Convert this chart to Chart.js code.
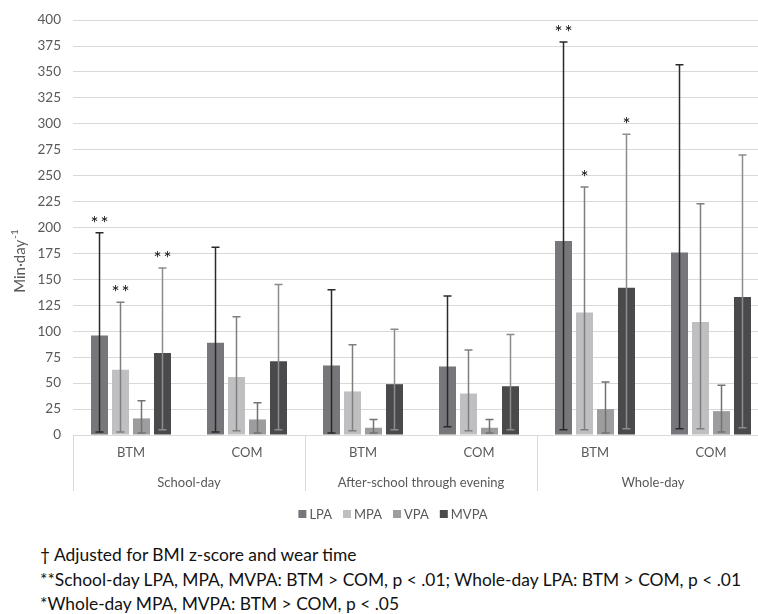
<!DOCTYPE html>
<html>
<head>
<meta charset="utf-8">
<script src="https://cdn.jsdelivr.net/npm/chart.js@4.4.1/dist/chart.umd.min.js"></script>
<style>
  body { margin: 0; background: #fff; overflow: hidden; width: 758px; height: 614px; position: relative; }
  #wrap { position: absolute; left: 0; top: 0; width: 790px; height: 535px; }
  .note { position: absolute; left: 40px; font-family: Lato, sans-serif; font-size: 17.4px; color: #111; white-space: nowrap; line-height: 20px; }
</style>
</head>
<body>
<div id="wrap"><canvas id="chart" width="790" height="535"></canvas></div>
<div class="note" style="top:545px">† Adjusted for BMI z-score and wear time</div>
<div class="note" style="top:570px">**School-day LPA, MPA, MVPA: BTM &gt; COM, p &lt; .01; Whole-day LPA: BTM &gt; COM, p &lt; .01</div>
<div class="note" style="top:594px">*Whole-day MPA, MVPA: BTM &gt; COM, p &lt; .05</div>
<script>
// categories (group / period)
const groups = ['BTM', 'COM', 'BTM', 'COM', 'BTM', 'COM'];
const periods = ['School-day', 'After-school through evening', 'Whole-day'];
const seriesNames = ['LPA', 'MPA', 'VPA', 'MVPA'];
const yTicks = [0, 400, 25];

// means
const lpa  = [96, 89, 67, 66, 187, 176];
const mpa  = [63, 56, 42, 40, 118, 109];
const vpa  = [16, 15, 7, 7, 25, 23];
const mvpa = [79, 71, 49, 47, 142, 133];

// error bar ends (low / high)
const lpaLow  = [3, 3, 2, 8, 5, 6];
const lpaHigh = [195, 181, 140, 134, 379, 357];
const mpaLow  = [3, 4, 4, 4, 5, 6];
const mpaHigh = [128, 114, 87, 82, 239, 223];
const vpaLow  = [2, 2, 2, 2, 2, 3];
const vpaHigh = [33, 31, 15, 15, 51, 48];
const mvpaLow  = [5, 5, 5, 5, 6, 7];
const mvpaHigh = [161, 145, 102, 97, 290, 270];

// significance marks per series
const lpaStars  = ['**', '', '', '', '**', ''];
const mpaStars  = ['**', '', '', '', '*', ''];
const vpaStars  = ['', '', '', '', '', ''];
const mvpaStars = ['**', '', '', '', '*', ''];

const colors = ['#77777b', '#bfbfc1', '#9d9d9f', '#4a4a4c'];
const errColors = ['#2a2a2a', '#7f7f7f', '#727272', '#8c8c8c'];
const lows = [lpaLow, mpaLow, vpaLow, mvpaLow];
const highs = [lpaHigh, mpaHigh, vpaHigh, mvpaHigh];
const stars = [lpaStars, mpaStars, vpaStars, mvpaStars];

const FONT = 'Lato, "Open Sans", sans-serif';
const GREY = '#595959';
const LINE = '#d9d9d9';

const extras = {
    id: 'extras',
    afterDatasetsDraw(chart) {
        const ctx = chart.ctx;
        const y = chart.scales.y;
        const x = chart.scales.x;
        ctx.save();

        // error bars + stars
        chart.data.datasets.forEach((ds, i) => {
            const meta = chart.getDatasetMeta(i);
            meta.data.forEach((bar, j) => {
                const top = y.getPixelForValue(highs[i][j]);
                const bot = y.getPixelForValue(lows[i][j]);
                ctx.strokeStyle = errColors[i];
                ctx.lineWidth = 1.5;
                ctx.beginPath();
                ctx.moveTo(bar.x, top); ctx.lineTo(bar.x, bot);
                ctx.moveTo(bar.x - 4, top); ctx.lineTo(bar.x + 4, top);
                ctx.moveTo(bar.x - 4, bot); ctx.lineTo(bar.x + 4, bot);
                ctx.stroke();
                if (stars[i][j]) {
                    ctx.fillStyle = '#111';
                    ctx.font = '19px ' + FONT;
                    ctx.textAlign = 'left';
                    ctx.textBaseline = 'alphabetic';
                    ctx.letterSpacing = '2px';
                    const w = ctx.measureText(stars[i][j]).width - 2;
                    ctx.fillText(stars[i][j], bar.x - w / 2, top - 3);
                    ctx.letterSpacing = '0px';
                }
            });
        });

        // category labels, period labels and separators
        const base = chart.chartArea.bottom;
        ctx.fillStyle = GREY;
        ctx.font = '13px ' + FONT;
        ctx.textAlign = 'center';
        ctx.textBaseline = 'middle';
        groups.forEach((g, i) => ctx.fillText(g, x.getPixelForValue(i), base + 18));
        const step = x.getPixelForValue(1) - x.getPixelForValue(0);
        periods.forEach((p, k) => {
            const cx = (x.getPixelForValue(2 * k) + x.getPixelForValue(2 * k + 1)) / 2;
            ctx.fillText(p, cx, base + 48);
        });
        ctx.strokeStyle = LINE;
        ctx.lineWidth = 1;
        for (let k = 0; k <= 3; k++) {
            const sx = Math.round(x.getPixelForValue(2 * k) - step / 2) + 0.5;
            ctx.beginPath();
            ctx.moveTo(sx, base); ctx.lineTo(sx, base + 56);
            ctx.stroke();
        }

        // y title
        ctx.save();
        ctx.translate(25, (chart.chartArea.top + base + 56) / 2 + 6);
        ctx.rotate(-Math.PI / 2);
        const main = 'Min·day';
        ctx.font = '15px ' + FONT;
        const w1 = ctx.measureText(main).width;
        ctx.font = '10px ' + FONT;
        const w2 = ctx.measureText('-1').width;
        const sx0 = -(w1 + w2) / 2;
        ctx.textAlign = 'left';
        ctx.textBaseline = 'alphabetic';
        ctx.font = '15px ' + FONT;
        ctx.fillText(main, sx0, 0);
        ctx.font = '10px ' + FONT;
        ctx.fillText('-1', sx0 + w1 + 1, -7);
        ctx.restore();

        // legend
        ctx.font = '13px ' + FONT;
        ctx.textAlign = 'left';
        ctx.textBaseline = 'middle';
        const ly = 514, box = 8, gapBox = 3, gapItem = 11;
        const widths = seriesNames.map(n => box + gapBox + ctx.measureText(n).width);
        const total = widths.reduce((a, b) => a + b, 0) + gapItem * (seriesNames.length - 1);
        let lx = 393 - total / 2;
        seriesNames.forEach((n, i) => {
            ctx.fillStyle = colors[i];
            ctx.fillRect(lx, ly - box / 2, box, box);
            ctx.fillStyle = GREY;
            ctx.fillText(n, lx + box + gapBox, ly + 1);
            lx += widths[i] + gapItem;
        });

        ctx.restore();
    }
};

new Chart(document.getElementById('chart'), {
    type: 'bar',
    data: {
        labels: groups,
        datasets: [
            { label: seriesNames[0], data: lpa, backgroundColor: colors[0] },
            { label: seriesNames[1], data: mpa, backgroundColor: colors[1] },
            { label: seriesNames[2], data: vpa, backgroundColor: colors[2] },
            { label: seriesNames[3], data: mvpa, backgroundColor: colors[3] }
        ]
    },
    options: {
        responsive: false,
        devicePixelRatio: 1,
        animation: false,
        categoryPercentage: 0.724,
        barPercentage: 0.81,
        layout: { padding: { top: 17, right: 21, left: 0, bottom: 44 } },
        plugins: { legend: { display: false }, tooltip: { enabled: false } },
        scales: {
            y: {
                min: yTicks[0], max: yTicks[1],
                ticks: { stepSize: yTicks[2], color: GREY, font: { family: FONT, size: 13.5 }, padding: 12 },
                grid: { color: LINE, drawTicks: false },
                border: { display: false },
                afterFit: s => { s.width = 73; }
            },
            x: {
                ticks: { display: false },
                grid: { display: false },
                border: { color: LINE, width: 1 },
                afterFit: s => { s.height = 56; }
            }
        }
    },
    plugins: [extras]
});
</script>
</body>
</html>
